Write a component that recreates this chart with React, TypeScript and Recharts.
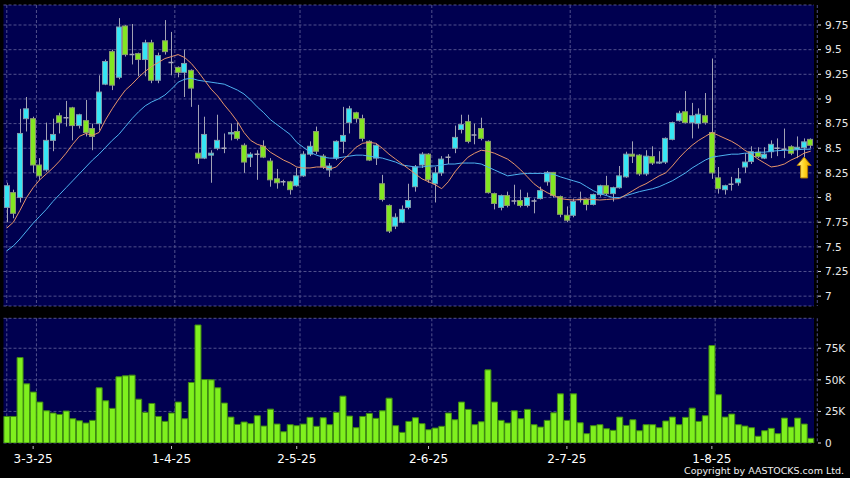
import {
  ComposedChart,
  BarChart,
  Bar,
  Line,
  XAxis,
  YAxis,
  CartesianGrid,
  ReferenceDot,
} from 'recharts';

// trading days per month, Feb 25 2025 - Aug 22 2025
const TRADING_DAYS: [number, number[]][] = [
  [2, [25, 26, 27, 28]],
  [3, [3, 4, 5, 6, 7, 10, 11, 12, 13, 14, 17, 18, 19, 20, 21, 24, 25, 26, 27, 28, 31]],
  [4, [1, 2, 3, 7, 8, 9, 10, 11, 14, 15, 16, 17, 22, 23, 24, 25, 28, 29, 30]],
  [5, [2, 6, 7, 8, 9, 12, 13, 14, 15, 16, 19, 20, 21, 22, 23, 26, 27, 28, 29, 30]],
  [6, [2, 3, 4, 5, 6, 9, 10, 11, 12, 13, 16, 17, 18, 19, 20, 23, 24, 25, 26, 27, 30]],
  [7, [2, 3, 4, 7, 8, 9, 10, 11, 14, 15, 16, 17, 18, 21, 22, 23, 24, 25, 28, 29, 30, 31]],
  [8, [1, 4, 5, 6, 7, 8, 11, 12, 13, 14, 15, 18, 19, 20, 21, 22]],
];
const DATES = TRADING_DAYS.flatMap(([m, days]) => days.map((d) => `${d}-${m}-25`));

const TICK_DATES = ['3-3-25', '1-4-25', '2-5-25', '2-6-25', '2-7-25', '1-8-25'];
const PRICE_TICKS = [7, 7.25, 7.5, 7.75, 8, 8.25, 8.5, 8.75, 9, 9.25, 9.5, 9.75];
const VOLUME_TICKS = [0, 25000, 50000, 75000];

const OPEN = [
  7.9, 8.05, 8.0, 8.8, 8.8, 8.33, 8.28, 8.58, 8.83, 8.81,
  8.91, 8.73, 8.78, 8.7, 8.75, 9.15, 9.48, 9.22, 9.74, 9.45,
  9.46, 9.4, 9.57, 9.19, 9.59, 9.37, 9.32, 9.27, 9.29, 8.45,
  8.4, 8.43, 8.5, 8.5, 8.645, 8.67, 8.53, 8.41, 8.44, 8.52,
  8.37, 8.19, 8.16, 8.16, 8.12, 8.22, 8.44, 8.67, 8.42, 8.28,
  8.4, 8.57, 8.76, 8.86, 8.8, 8.57, 8.4, 8.14, 7.92, 7.71,
  7.75, 7.9, 8.11, 8.33, 8.44, 8.14, 8.25, 8.41, 8.5, 8.69,
  8.77, 8.635, 8.7, 8.57, 8.04, 7.9, 8.02, 7.965, 7.97, 7.92,
  7.965, 7.99, 8.16, 8.255, 8.01, 7.82, 7.82, 7.98, 7.98, 7.93,
  8.03, 8.12, 8.04, 8.1, 8.21, 8.44, 8.43, 8.24, 8.415, 8.35,
  8.36, 8.59, 8.78, 8.87, 8.76, 8.75, 8.83, 8.66, 8.2, 8.08,
  8.135, 8.15, 8.31, 8.365, 8.46, 8.4, 8.465, 8.5, 8.49, 8.515,
  8.49, 8.505, 8.59,
];
const HIGH = [
  8.15, 8.08, 8.9, 9.02, 8.82, 8.4, 8.76, 8.8, 8.86, 8.98,
  8.92, 8.85, 8.99, 8.75, 9.24, 9.4, 9.5, 9.82, 9.75, 9.76,
  9.47, 9.6, 9.6, 9.47, 9.8, 9.68, 9.33, 9.5, 9.3, 8.94,
  8.82, 8.48, 8.84, 8.65, 8.75, 8.76, 8.55, 8.46, 8.48, 8.58,
  8.4, 8.29, 8.18, 8.17, 8.3, 8.47, 8.57, 8.72, 8.44, 8.35,
  8.58, 8.92, 8.93, 8.87, 8.84, 8.58, 8.55, 8.23, 7.93, 7.84,
  7.92, 8.14, 8.33, 8.46, 8.45, 8.31, 8.42, 8.44, 8.73, 8.84,
  8.84, 8.75, 8.81, 8.58, 8.05, 8.03, 8.06, 8.13, 8.08, 8.05,
  7.99, 8.11, 8.27, 8.26, 8.02, 7.91, 7.99, 8.06, 7.99, 8.04,
  8.13, 8.22, 8.11, 8.32, 8.465, 8.57, 8.44, 8.48, 8.52, 8.47,
  8.61, 8.77, 8.88, 9.08, 8.96, 8.905, 9.06, 9.41, 8.31, 8.13,
  8.21, 8.3, 8.45, 8.52, 8.51, 8.51, 8.58, 8.6, 8.7, 8.53,
  8.62, 8.6, 8.6,
];
const LOW = [
  7.75, 7.79, 7.95, 8.67, 8.25, 8.18, 8.26, 8.47, 8.65, 8.72,
  8.58, 8.7, 8.62, 8.48, 8.68, 9.14, 9.09, 9.2, 9.43, 9.35,
  9.23, 9.23, 9.16, 9.16, 9.45, 9.24, 9.22, 9.02, 8.92, 8.34,
  8.39, 8.15, 8.48, 8.45, 8.58, 8.58, 8.25, 8.31, 8.18, 8.4,
  8.11, 8.09, 8.12, 8.03, 8.11, 8.21, 8.42, 8.44, 8.29, 8.21,
  8.38, 8.45, 8.65, 8.76, 8.57, 8.37, 8.33, 7.96, 7.64, 7.68,
  7.74, 7.88, 8.06, 8.3, 8.15, 7.95, 8.22, 8.34, 8.45, 8.65,
  8.55, 8.54, 8.58, 8.04, 7.88, 7.87, 7.9, 7.93, 7.9, 7.9,
  7.84, 7.98, 8.12, 8.0, 7.8, 7.75, 7.8, 7.95, 7.87, 7.92,
  8.01, 8.02, 7.96, 8.09, 8.2, 8.35, 8.22, 8.22, 8.33, 8.34,
  8.34, 8.58, 8.77, 8.75, 8.6, 8.7, 8.74, 8.19, 8.04, 8.03,
  8.07, 8.12, 8.25, 8.34, 8.4, 8.39, 8.4, 8.42, 8.4, 8.43,
  8.4, 8.35, 8.5,
];
const CLOSE = [
  8.12, 7.84, 8.65, 8.9, 8.33, 8.22, 8.58, 8.64, 8.76, 8.81,
  8.73, 8.84, 8.66, 8.62, 9.07, 9.38, 9.14, 9.73, 9.45, 9.45,
  9.4, 9.57, 9.19, 9.44, 9.48, 9.37, 9.27, 9.36, 9.11, 8.4,
  8.64, 8.45, 8.58, 8.5, 8.66, 8.6, 8.36, 8.44, 8.44, 8.41,
  8.18, 8.15, 8.16, 8.08, 8.22, 8.44, 8.52, 8.47, 8.31, 8.32,
  8.57, 8.63, 8.9, 8.8, 8.6, 8.38, 8.53, 7.98, 7.66, 7.8,
  7.88, 7.97, 8.31, 8.44, 8.18, 8.25, 8.39, 8.41, 8.61, 8.74,
  8.57, 8.635, 8.6, 8.05, 7.94, 8.02, 7.92, 7.965, 7.92, 8.0,
  7.965, 8.07, 8.255, 8.02, 7.83, 7.77, 7.96, 7.98, 7.93, 8.03,
  8.12, 8.04, 8.1, 8.22, 8.44, 8.42, 8.24, 8.42, 8.35, 8.36,
  8.6, 8.76, 8.855, 8.76, 8.83, 8.845, 8.76, 8.25, 8.09, 8.12,
  8.135, 8.19, 8.36, 8.465, 8.415, 8.44, 8.54, 8.5, 8.49, 8.45,
  8.51, 8.565, 8.53,
];
const VOLUME_K = [
  21, 21, 67.6, 46.8, 40.3, 32.4, 25.5, 23.7, 22.6, 25.3,
  19.2, 17.6, 15.8, 17.9, 43.7, 33.4, 27.4, 52.4, 53.2, 53.7,
  34.7, 24.2, 31.3, 21, 17.1, 23.7, 32.4, 19.2, 47.9, 93.4,
  50.2, 50, 43.7, 31.6, 20.5, 14.7, 16.6, 15.3, 21.6, 13.4,
  26.8, 15, 8.9, 14.5, 13.7, 15, 20.3, 13.2, 20, 14.5,
  24.2, 37.1, 21.3, 12.1, 21, 23.4, 19.5, 25.5, 35.5, 13.7,
  8.4, 17.1, 20, 15.3, 10.5, 11.8, 13.2, 23.7, 18.4, 32.4,
  26.6, 14.5, 16.8, 57.9, 32.4, 17.9, 15.8, 25.5, 19.2, 26.6,
  14.5, 12.6, 17.9, 23.9, 38.9, 17.9, 38.9, 16, 7.4, 13.7,
  14.5, 11.3, 10, 20.5, 13.9, 18.4, 9.7, 14.5, 14.5, 12.1,
  17.4, 20.5, 14.5, 20.3, 27.6, 17.1, 21.6, 77.1, 38.2, 20.5,
  22.9, 14.5, 13.4, 12.1, 5.3, 9.7, 11.6, 7.4, 19.7, 12.6,
  19.7, 15, 3.7,
];
const MA10 = [
  7.69, 7.75, 7.87, 8.0, 8.1, 8.18, 8.24, 8.3, 8.37, 8.45,
  8.54, 8.62, 8.65, 8.63, 8.66, 8.79, 8.9, 9.0, 9.09, 9.15,
  9.22, 9.28, 9.33, 9.37, 9.41, 9.43, 9.45, 9.42, 9.36, 9.28,
  9.19, 9.1, 9.03, 8.94, 8.86, 8.77, 8.66, 8.58, 8.54, 8.52,
  8.46, 8.42, 8.38, 8.35, 8.31, 8.3, 8.3, 8.31, 8.31, 8.29,
  8.31, 8.38, 8.44, 8.51, 8.55, 8.56, 8.55, 8.5, 8.44, 8.39,
  8.34, 8.29, 8.24, 8.19, 8.16, 8.13, 8.09, 8.16, 8.26, 8.34,
  8.41, 8.45, 8.48, 8.47, 8.45, 8.42, 8.39, 8.34, 8.28, 8.21,
  8.14, 8.09, 8.05, 8.02, 7.99, 7.98, 7.975, 7.98, 7.985, 7.98,
  7.975, 7.98, 7.985, 7.99, 8.03, 8.07, 8.11, 8.14, 8.18, 8.22,
  8.25, 8.32, 8.4, 8.47, 8.53, 8.58, 8.62, 8.66, 8.63, 8.6,
  8.57, 8.53, 8.48, 8.44, 8.39, 8.35, 8.31, 8.32, 8.34, 8.38,
  8.41, 8.45, 8.47,
];
const MA20 = [
  7.46, 7.51, 7.58, 7.66, 7.74, 7.81, 7.88, 7.96, 8.03, 8.1,
  8.17, 8.24, 8.31, 8.38, 8.44, 8.51, 8.58, 8.64, 8.72, 8.8,
  8.87, 8.93, 8.97, 9.0, 9.04, 9.1, 9.17, 9.2, 9.21, 9.19,
  9.18, 9.17, 9.16, 9.15, 9.12, 9.09, 9.05, 8.99, 8.92, 8.86,
  8.79, 8.74, 8.69, 8.64, 8.56, 8.51, 8.46, 8.43, 8.41, 8.4,
  8.4, 8.41, 8.42, 8.43, 8.43, 8.42, 8.41, 8.4, 8.38, 8.36,
  8.33, 8.32, 8.31, 8.31, 8.32, 8.32, 8.33, 8.34, 8.34, 8.35,
  8.35, 8.35, 8.34, 8.31, 8.28, 8.25, 8.22, 8.23, 8.24, 8.245,
  8.245, 8.245, 8.245, 8.235, 8.21, 8.19, 8.17, 8.15, 8.11, 8.07,
  8.04, 8.02, 8.0, 8.0, 8.02, 8.04, 8.06, 8.075, 8.09, 8.11,
  8.14, 8.17, 8.21, 8.25, 8.3, 8.34, 8.38, 8.41, 8.42, 8.43,
  8.44, 8.44, 8.45, 8.45, 8.46, 8.46, 8.47, 8.475, 8.48, 8.48,
  8.485, 8.49, 8.49,
];

const rows = DATES.map((date, i) => ({
  date,
  open: OPEN[i],
  high: HIGH[i],
  low: LOW[i],
  close: CLOSE[i],
  volume: VOLUME_K[i] * 1000,
  ma10: MA10[i],
  ma20: MA20[i],
}));

const NAVY = '#000050';
const GRID = '#50508c';
const FONT = '"DejaVu Sans", Verdana, sans-serif';
const CHART_W = 850;
const MARGIN_L = 3.5;
const AXIS_W = 36;
// date gridlines sit on the right edge of the tick day's slot
const HALF_SLOT = (CHART_W - MARGIN_L - AXIS_W) / DATES.length / 2;

function DateGridLine(props: any) {
  const { x1, x2, y1, y2 } = props;
  return (
    <line
      x1={x1 + HALF_SLOT}
      x2={x2 + HALF_SLOT}
      y1={y1}
      y2={y2}
      stroke={GRID}
      strokeDasharray="3 2"
    />
  );
}

function Candle(props: any) {
  const { x, y, width, height, payload } = props;
  const { open, close, high, low } = payload;
  const cx = Math.round(x + width / 2) + 0.5;
  const ppu = high > low ? height / (high - low) : 0;
  const yOf = (v: number) => y + (high - v) * ppu;
  const left = Math.round(x) + 0.5;
  const w = Math.round(width) - 1;
  const top = yOf(Math.max(open, close));
  const bottom = yOf(Math.min(open, close));
  const wick = <line x1={cx} x2={cx} y1={y} y2={y + height} stroke="#a2a2b4" strokeWidth={1} />;
  if (open === close) {
    return (
      <g>
        {wick}
        <line x1={left} x2={left + w} y1={top} y2={top} stroke="#a8a8b8" strokeWidth={1.5} />
      </g>
    );
  }
  const up = close > open;
  return (
    <g>
      {wick}
      <rect
        x={left}
        y={top}
        width={w}
        height={Math.max(bottom - top, 1)}
        fill={up ? '#36e6f4' : '#82e622'}
        stroke={up ? '#7f9cac' : '#8a9a70'}
        strokeWidth={1}
      />
    </g>
  );
}

function Arrow(props: any) {
  const { cx, cy } = props;
  const pts = [
    [cx, cy - 10.5],
    [cx + 7, cy - 2],
    [cx + 3.5, cy - 2],
    [cx + 3.5, cy + 10.5],
    [cx - 3.5, cy + 10.5],
    [cx - 3.5, cy - 2],
    [cx - 7, cy - 2],
  ]
    .map((p) => p.join(','))
    .join(' ');
  return <polygon points={pts} fill="url(#arrowFill)" stroke="#b07a00" strokeWidth={1} />;
}

function PriceTick(props: any) {
  const { x, y, payload } = props;
  return (
    <g>
      <line x1={x + 4} x2={x + 7} y1={y} y2={y} stroke="#d8d8d8" />
      <text x={x + 11} y={y} dy="0.36em" fill="#e8e8e8" fontSize={10.5} fontFamily={FONT}>
        {payload.value}
      </text>
    </g>
  );
}

function VolumeTick(props: any) {
  const { x, y, payload } = props;
  const v = payload.value;
  return (
    <g>
      <line x1={x + 4} x2={x + 7} y1={y} y2={y} stroke="#d8d8d8" />
      <text x={x + 11} y={y} dy="0.36em" fill="#e8e8e8" fontSize={10.5} fontFamily={FONT}>
        {v === 0 ? '0' : `${v / 1000}K`}
      </text>
    </g>
  );
}

function DateTick(props: any) {
  const { x, y, payload } = props;
  return (
    <g>
      <line x1={x} x2={x} y1={y + 3} y2={y + 6} stroke="#c0c0c0" />
      <text x={x} y={y + 19.5} textAnchor="middle" fill="#ffffff" fontSize={12} fontFamily={FONT}>
        {payload.value}
      </text>
    </g>
  );
}

export default function App() {
  return (
    <div
      style={{
        position: 'fixed',
        left: 0,
        top: 0,
        width: 850,
        height: 478,
        background: '#000',
        overflow: 'hidden',
      }}
    >
      <div style={{ position: 'absolute', left: 0, top: 0 }}>
        <ComposedChart
          width={CHART_W}
          height={310}
          data={rows}
          margin={{ top: 5, right: 0, bottom: 4, left: MARGIN_L }}
        >
          <defs>
            <linearGradient id="arrowFill" x1="0" y1="0" x2="1" y2="0">
              <stop offset="0%" stopColor="#fff59a" />
              <stop offset="55%" stopColor="#ffd21a" />
              <stop offset="100%" stopColor="#e09a00" />
            </linearGradient>
          </defs>
          <CartesianGrid
            stroke={GRID}
            strokeDasharray="3 2"
            fill={NAVY}
            fillOpacity={1}
            vertical={(p: any) => <DateGridLine key={p.key} {...p} />}
          />
          <XAxis dataKey="date" hide ticks={TICK_DATES} interval={0} />
          <YAxis
            orientation="right"
            width={AXIS_W}
            domain={[6.9, 9.953]}
            allowDataOverflow
            ticks={PRICE_TICKS}
            interval={0}
            axisLine={false}
            tickLine={false}
            tickSize={0}
            tickMargin={0}
            tick={<PriceTick />}
          />
          <Line
            dataKey="ma20"
            type="linear"
            stroke="#4eb2f0"
            strokeWidth={1}
            dot={false}
            isAnimationActive={false}
          />
          <Line
            dataKey="ma10"
            type="linear"
            stroke="#e6946a"
            strokeWidth={1}
            dot={false}
            isAnimationActive={false}
          />
          <Bar
            dataKey={(r: any) => [r.low, r.high]}
            barSize={6}
            shape={(p: any) => <Candle {...p} />}
            isAnimationActive={false}
          />
          <ReferenceDot x={DATES[121]} y={8.305} r={0} shape={(p: any) => <Arrow {...p} />} />
        </ComposedChart>
      </div>
      <div style={{ position: 'absolute', left: 0, top: 310 }}>
        <BarChart
          width={CHART_W}
          height={168}
          data={rows}
          margin={{ top: 8.3, right: 0, bottom: 0, left: MARGIN_L }}
          barCategoryGap="6%"
        >
          <CartesianGrid
            stroke={GRID}
            strokeDasharray="3 2"
            fill={NAVY}
            fillOpacity={1}
            vertical={(p: any) => <DateGridLine key={p.key} {...p} />}
          />
          <XAxis
            dataKey="date"
            ticks={TICK_DATES}
            interval={0}
            height={35}
            axisLine={false}
            tickLine={false}
            tickSize={0}
            tickMargin={0}
            tick={<DateTick />}
          />
          <YAxis
            orientation="right"
            width={AXIS_W}
            domain={[0, 98700]}
            allowDataOverflow
            ticks={VOLUME_TICKS}
            interval={0}
            axisLine={false}
            tickLine={false}
            tickSize={0}
            tickMargin={0}
            tick={<VolumeTick />}
          />
          <Bar dataKey="volume" fill="#7ff01e" stroke="#3f8a12" strokeWidth={1} isAnimationActive={false} />
        </BarChart>
      </div>
      <div
        style={{
          position: 'absolute',
          right: 6,
          top: 465,
          color: '#f0f0f0',
          fontFamily: FONT,
          fontSize: 9.5,
          lineHeight: '12px',
          whiteSpace: 'nowrap',
        }}
      >
        Copyright by AASTOCKS.com Ltd.
      </div>
    </div>
  );
}
